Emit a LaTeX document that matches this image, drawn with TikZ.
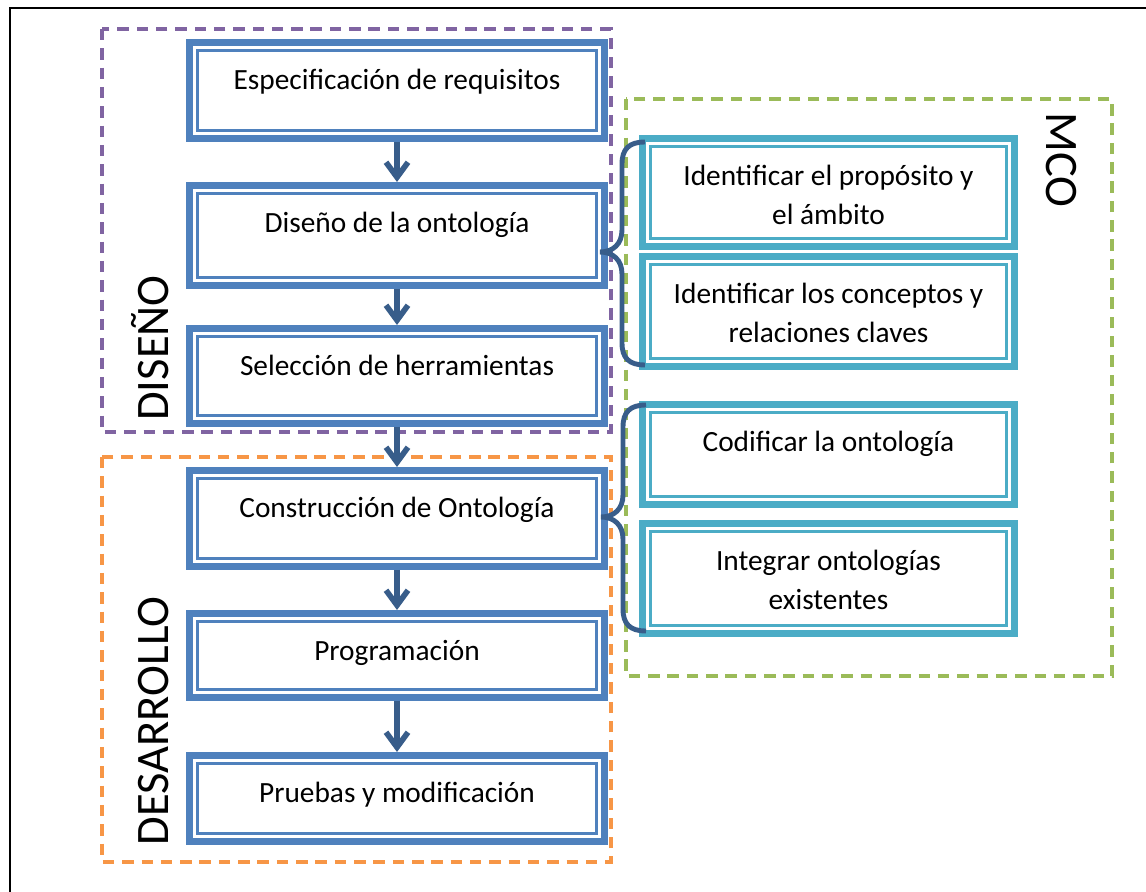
\documentclass[tikz,border=0pt]{standalone}
\usepackage{fontspec}
\setmainfont{Carlito}
\usetikzlibrary{arrows.meta, positioning, calc}
\definecolor{boxblue}{RGB}{79,129,189}
\definecolor{boxaqua}{RGB}{75,172,198}
\definecolor{darkblue}{RGB}{56,93,138}
\definecolor{dashpurple}{RGB}{128,100,162}
\definecolor{dashorange}{RGB}{247,150,70}
\definecolor{dashgreen}{RGB}{155,187,89}

\tikzset{
  stage/.style={draw=#1, line width=4pt, inner xsep=0pt, inner ysep=0pt, outer sep=0pt,
    minimum height=0pt, text height=0.944cm, align=center, anchor=north,
    font=\fontsize{16.7}{22}\selectfont,
    path picture={\draw[#1, line width=1.4pt]
      ([shift={(0.156cm,-0.156cm)}]path picture bounding box.north west) rectangle
      ([shift={(-0.156cm,0.156cm)}]path picture bounding box.south east);}},
  leftbox/.style={stage=boxblue, minimum width=8.3cm},
  rightbox/.style={stage=boxaqua, minimum width=7.44cm},
  twoline/.style={text height=1.717cm},
  flow/.style={darkblue, line width=3.2pt, -{Straight Barb[length=0.3cm,width=0.44cm]},
    shorten <=0.07cm, shorten >=0.07cm},
  curly/.style={darkblue, line width=2.8pt},
  phase/.style={#1, line width=1.8pt, dash pattern=on 6.5pt off 4.5pt},
  phaselabel/.style={font=\fontsize{26.5}{30}\selectfont, inner sep=0pt,
    text height=17.1pt, text depth=0pt}
}

\begin{document}
\begin{tikzpicture}[x=0.02cm, y=-0.02cm]
  \useasboundingbox (0,0) rectangle (1146,892);
  % frame
  \draw[black, line width=1.1pt] (10,892) -- (10,8) -- (1146,8);

  % phases
  \draw[phase=dashpurple] (102,29) rectangle (611,432);
  \draw[phase=dashorange] (102,457) rectangle (611,862);
  \draw[phase=dashgreen] (626,99) rectangle (1112,676);

  % main flow
  \node[leftbox, text depth=0.976cm] (req) at (397,42.5) {Especificación de requisitos};
  \node[leftbox, text depth=1.056cm] (dis) at (397,185.5) {Diseño de la ontología};
  \node[leftbox, text depth=0.956cm] (sel) at (397,328.5) {Selección de herramientas};
  \node[leftbox, text depth=0.976cm] (con) at (397,470.5) {Construcción de Ontología};
  \node[leftbox, text depth=0.736cm] (prog) at (397,613.5) {Programación};
  \node[leftbox, text depth=0.776cm] (prue) at (397,755.5) {Pruebas y modificación};

  \draw[flow] (req) -- (dis);
  \draw[flow] (dis) -- (sel);
  \draw[flow] (sel) -- (con);
  \draw[flow] (con) -- (prog);
  \draw[flow] (prog) -- (prue);

  % MCO steps
  \node[rightbox, twoline, text depth=0.443cm] (prop) at (828.5,138.5) {Identificar el propósito y\\el ámbito};
  \node[rightbox, twoline, text depth=0.483cm] (conc) at (828.5,256.5) {Identificar los conceptos y\\relaciones claves};
  \node[rightbox, text depth=1.056cm] (cod) at (828.5,404.5) {Codificar la ontología};
  \node[rightbox, twoline, text depth=0.483cm] (integ) at (828.5,523.5) {Integrar ontologías\\existentes};

  % braces
  \draw[curly] (645,142) .. controls (629,142) and (622,149) .. (622,164) -- (622,230)
    .. controls (622,244) and (613,252) .. (600,252)
    .. controls (613,252) and (622,260) .. (622,274) -- (622,343)
    .. controls (622,358) and (629,365) .. (645,365);
  \draw[curly] (646,405) .. controls (630,405) and (623,412) .. (623,427) -- (623,495)
    .. controls (623,509) and (614,517) .. (601,517)
    .. controls (614,517) and (623,525) .. (623,539) -- (623,609)
    .. controls (623,624) and (630,631) .. (646,631);

  % labels
  \node[phaselabel, rotate=90] (ldis) at (153,348) {DISEÑO};
  \node[phaselabel, rotate=90] (ldes) at (153,721) {DESARROLLO};
  \node[phaselabel, rotate=-90] (lmco) at (1062,160) {MCO};
\end{tikzpicture}
\end{document}
